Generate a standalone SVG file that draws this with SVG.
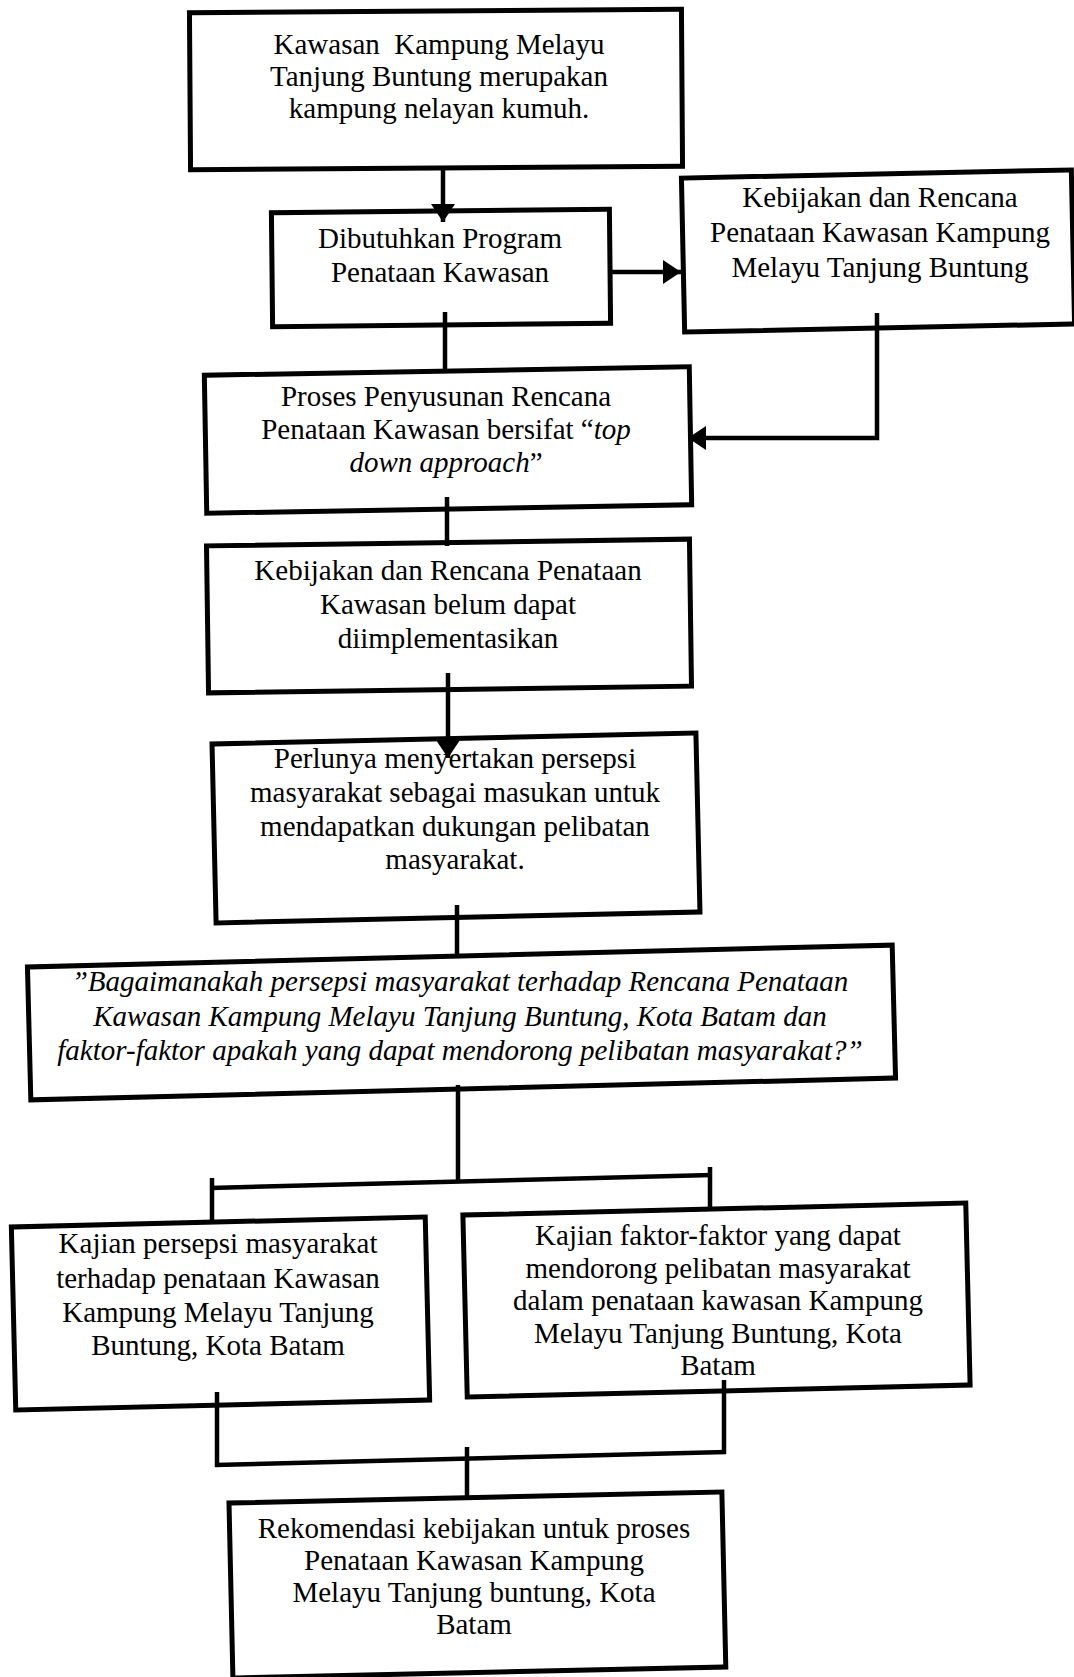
<svg xmlns="http://www.w3.org/2000/svg" width="1074" height="1677" viewBox="0 0 1074 1677">
<style>
.box{fill:none;stroke:#000;stroke-width:5}
.t{font-family:"Liberation Serif","Times New Roman",serif;font-size:29px;fill:#000;text-anchor:middle}
.it{font-style:italic}
.c{fill:none;stroke:#000;stroke-width:4.5}
</style>
<defs>
<marker id="ah" markerUnits="userSpaceOnUse" markerWidth="20" markerHeight="24" refX="18" refY="12" orient="auto">
<path d="M0,0 L18,12 L0,24 Z" fill="#000"/>
</marker>
</defs>
<rect width="1074" height="1677" fill="#fff"/>

<g id="connectors">
<line class="c" x1="443" y1="169" x2="443" y2="222" marker-end="url(#ah)"/>
<line class="c" x1="610" y1="272" x2="681" y2="272" marker-end="url(#ah)"/>
<polyline class="c" points="877,313 877,438 688,438" marker-end="url(#ah)"/>
<line class="c" x1="445" y1="312" x2="445" y2="372"/>
<line class="c" x1="447" y1="497" x2="447" y2="546"/>
<line class="c" x1="448" y1="673" x2="448" y2="758" marker-end="url(#ah)"/>
<line class="c" x1="457" y1="905" x2="457" y2="956"/>
<line class="c" x1="458" y1="1085" x2="458" y2="1182"/>
<line class="c" x1="210" y1="1188" x2="712" y2="1175"/>
<line class="c" x1="212" y1="1178" x2="212" y2="1223"/>
<line class="c" x1="710" y1="1167" x2="710" y2="1211"/>
<line class="c" x1="217" y1="1392" x2="217" y2="1467"/>
<line class="c" x1="215" y1="1465" x2="726" y2="1452"/>
<line class="c" x1="724" y1="1380" x2="724" y2="1454"/>
<line class="c" x1="467" y1="1447" x2="467" y2="1498"/>
</g>

<g id="n1">
<rect class="box" x="190" y="11" width="492" height="157" transform="rotate(-0.4 436 89.5)"/>
<text class="t" x="439" xml:space="preserve"><tspan x="439" y="54">Kawasan  Kampung Melayu</tspan><tspan x="439" y="86">Tanjung Buntung merupakan</tspan><tspan x="439" y="118">kampung nelayan kumuh.</tspan></text>
</g>

<g id="n2">
<rect class="box" x="272" y="211" width="338" height="114" transform="rotate(-0.6 441 268)"/>
<text class="t"><tspan x="440" y="248">Dibutuhkan Program</tspan><tspan x="440" y="282">Penataan Kawasan</tspan></text>
</g>

<g id="n3">
<rect class="box" x="683" y="174" width="390" height="154" transform="rotate(-1.2 878 251)"/>
<text class="t"><tspan x="880" y="207">Kebijakan dan Rencana</tspan><tspan x="880" y="242">Penataan Kawasan Kampung</tspan><tspan x="880" y="277">Melayu Tanjung Buntung</tspan></text>
</g>

<g id="n4">
<rect class="box" x="205.5" y="371" width="485" height="138" transform="rotate(-1 448 440)"/>
<text class="t"><tspan x="446" y="406">Proses Penyusunan Rencana</tspan><tspan x="446" y="439">Penataan Kawasan bersifat “<tspan class="it">top</tspan></tspan><tspan x="446" y="472"><tspan class="it">down approach</tspan>”</tspan></text>
</g>

<g id="n5">
<rect class="box" x="207.5" y="542.5" width="483" height="147" transform="rotate(-0.8 449 616)"/>
<text class="t"><tspan x="448" y="580">Kebijakan dan Rencana Penataan</tspan><tspan x="448" y="614">Kawasan belum dapat</tspan><tspan x="448" y="648">diimplementasikan</tspan></text>
</g>

<g id="n6">
<rect class="box" x="214" y="738.5" width="484" height="179" transform="rotate(-1.3 456 828)"/>
<text class="t"><tspan x="455" y="768">Perlunya menyertakan persepsi</tspan><tspan x="455" y="802">masyarakat sebagai masukan untuk</tspan><tspan x="455" y="836">mendapatkan dukungan pelibatan</tspan><tspan x="455" y="869">masyarakat.</tspan></text>
</g>

<g id="n7">
<rect class="box" x="29" y="956" width="865" height="133" transform="rotate(-1.45 461.5 1022.5)"/>
<text class="t it"><tspan x="460" y="991">”Bagaimanakah persepsi masyarakat terhadap Rencana Penataan</tspan><tspan x="460" y="1026">Kawasan Kampung Melayu Tanjung Buntung, Kota Batam dan</tspan><tspan x="460" y="1060">faktor-faktor apakah yang dapat mendorong pelibatan masyarakat?”</tspan></text>
</g>

<g id="n8">
<rect class="box" x="13.5" y="1222" width="414" height="183" transform="rotate(-1.38 220.5 1313.5)"/>
<text class="t"><tspan x="218" y="1253">Kajian persepsi masyarakat</tspan><tspan x="218" y="1288">terhadap penataan Kawasan</tspan><tspan x="218" y="1322">Kampung Melayu Tanjung</tspan><tspan x="218" y="1355">Buntung, Kota Batam</tspan></text>
</g>

<g id="n9">
<rect class="box" x="465" y="1209" width="503" height="182" transform="rotate(-1.37 716.5 1300)"/>
<text class="t"><tspan x="718" y="1245">Kajian faktor-faktor yang dapat</tspan><tspan x="718" y="1278">mendorong pelibatan masyarakat</tspan><tspan x="718" y="1310">dalam penataan kawasan Kampung</tspan><tspan x="718" y="1343">Melayu Tanjung Buntung, Kota</tspan><tspan x="718" y="1375">Batam</tspan></text>
</g>

<g id="n10">
<rect class="box" x="229" y="1503" width="493" height="175" transform="rotate(-1.28 229 1503)"/>
<text class="t"><tspan x="474" y="1538">Rekomendasi kebijakan untuk proses</tspan><tspan x="474" y="1570">Penataan Kawasan Kampung</tspan><tspan x="474" y="1602">Melayu Tanjung buntung, Kota</tspan><tspan x="474" y="1634">Batam</tspan></text>
</g>
</svg>
